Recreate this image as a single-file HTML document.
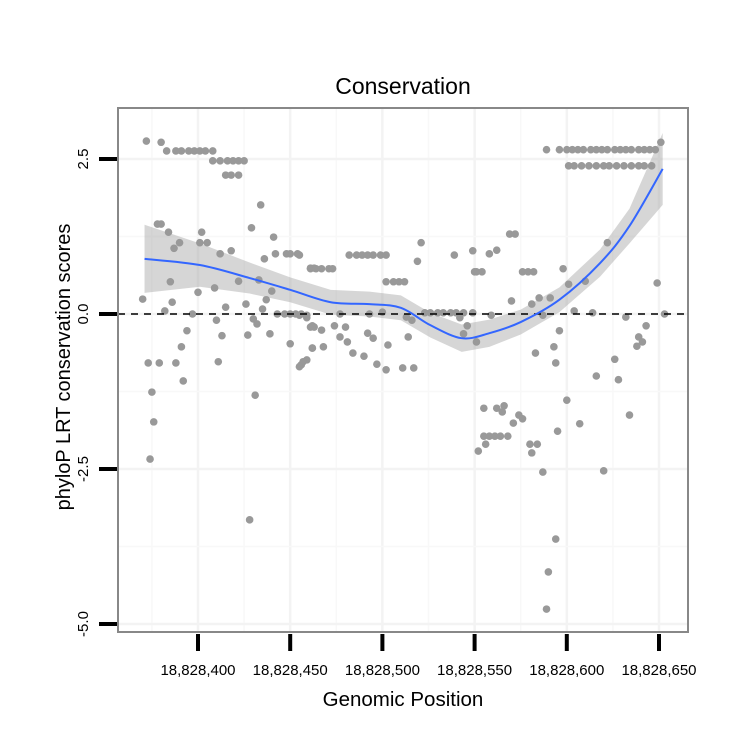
<!DOCTYPE html>
<html><head><meta charset="utf-8"><style>
body{margin:0;background:#fff;}
svg{display:block;font-family:"Liberation Sans",sans-serif;}
</style></head><body>
<svg id="chart" width="750" height="750"></svg>
<script>
const basePosition = 18828400;
const xOffsets = [-28,-20,-17,-12,-9,-5,-2,1,4,8,8,12,16,19,22,25,15,18,22,34,-22,-20,-16,-13,-10,2,1,5,12,18,29,41,42,48,50,54,61,63,36,-15,0,9,22,33,40,37,-30,-14,-18,-3,15,26,35,10,30,32,43,47,50,53,56,59,61,63,-6,13,27,39,-9,50,62,-27,-21,-12,11,59,56,-8,-25,31,-24,-26,28,
121,119,82,86,89,92,95,99,102,55,61,64,67,71,73,102,106,109,112,139,149,158,162,151,55,59,77,93,100,113,116,123,126,130,133,137,140,144,149,159,142,146,144,151,62,67,74,80,77,81,92,95,103,114,62,68,84,90,97,102,111,117,57,55,
189,196,200,203,206,209,213,216,219,222,226,229,232,235,239,242,245,248,251,201,204,208,212,216,220,223,227,231,235,239,242,246,169,172,150,154,176,179,182,198,222,201,210,249,170,181,185,191,204,214,187,232,253,243,196,239,241,238,183,193,194,226,216,228,155,162,166,165,174,171,176,200,207,195,234,155,158,161,164,168,156,152,180,184,181,187,220,194,190,189];
const scores = [2.79,2.77,2.63,2.63,2.63,2.63,2.63,2.63,2.63,2.63,2.47,2.47,2.47,2.47,2.47,2.47,2.24,2.24,2.24,1.76,1.45,1.45,1.32,1.06,1.15,1.32,1.15,1.15,0.97,1.02,1.39,1.24,0.97,0.97,0.97,0.97,0.74,0.74,0.89,0.52,0.35,0.42,0.53,0.55,0.37,0.23,0.24,0.19,0.05,0,0.11,0.16,0.08,-0.1,-0.08,-0.16,0,0,0,0,0,-0.06,-0.21,-0.21,-0.27,-0.35,-0.34,-0.32,-0.53,-0.48,-0.55,-0.79,-0.79,-0.79,-0.77,-0.74,-0.82,-1.08,-1.26,-1.31,-1.74,-2.34,-3.32,
1.15,0.85,0.95,0.95,0.95,0.95,0.95,0.95,0.95,0.95,0.73,0.73,0.73,0.73,0.73,0.52,0.52,0.52,0.52,0.95,1.02,0.97,1.03,0.68,-0.02,-0.02,0,0,0.03,-0.05,-0.1,0.02,0.02,0.02,0.02,0.02,0.02,0.02,0.02,-0.02,-0.06,-0.19,-0.32,-0.45,-0.19,-0.26,-0.19,-0.21,-0.37,-0.45,-0.31,-0.39,-0.5,-0.37,-0.55,-0.53,-0.63,-0.68,-0.81,-0.9,-0.87,-0.87,-0.77,-0.85,
2.65,2.65,2.65,2.65,2.65,2.65,2.65,2.65,2.65,2.65,2.65,2.65,2.65,2.65,2.65,2.65,2.65,2.65,2.77,2.39,2.39,2.39,2.39,2.39,2.39,2.39,2.39,2.39,2.39,2.39,2.39,2.39,1.29,1.29,0.68,0.68,0.68,0.68,0.68,0.73,1.15,0.48,0.53,0.5,0.21,0.16,0.26,0.26,0.05,0.02,-0.02,-0.05,0,-0.19,-0.27,-0.37,-0.45,-0.52,-0.63,-0.53,-0.79,-0.73,-1.0,-1.06,-1.52,-1.52,-1.48,-1.58,-1.63,-1.76,-1.69,-1.39,-1.77,-1.89,-1.63,-1.97,-1.97,-1.97,-1.97,-1.97,-2.1,-2.21,-2.1,-2.1,-2.24,-2.55,-2.53,-3.63,-4.16,-4.76];
const fitX = [-29,1,28,50,72,93,110,126,143,158,175,196,218,234,252];
const fitY = [0.89,0.79,0.58,0.39,0.19,0.16,0.10,-0.18,-0.39,-0.31,-0.13,0.23,0.82,1.42,2.34];
const fitSE = [0.55,0.35,0.25,0.2,0.2,0.2,0.2,0.2,0.22,0.22,0.2,0.2,0.22,0.28,0.58];
const xTicks = [0,50,100,150,200,250];
const xTickLabels = ["18,828,400","18,828,450","18,828,500","18,828,550","18,828,600","18,828,650"];
const yTicks = [2.5,0,-2.5,-5];
const yTickLabels = ["2.5","0.0","-2.5","-5.0"];

const NS="http://www.w3.org/2000/svg";
const svg=document.getElementById('chart');
const L=118,R=688,T=108,B=632;
const X=v=>198+v*1.844;
const Y=v=>314-v*62;
function mk(tag,attrs,parent){const e=document.createElementNS(NS,tag);for(const k in attrs)e.setAttribute(k,attrs[k]);(parent||svg).appendChild(e);return e;}

const grid=mk('g',{});


for(let v=-25;v<=275;v+=25){const px=X(v);if(px>L&&px<R){const l=mk('line',{x1:px,x2:px,y1:T,y2:B,stroke:v%50===0?'#f3f3f3':'#f8f8f8','stroke-width':v%50===0?2.5:1.5},grid);

}}
for(let v=-5;v<=3.75;v+=1.25){const py=Y(v);if(py>T&&py<B){const l=mk('line',{x1:L,x2:R,y1:py,y2:py,stroke:Math.abs(v%2.5)<1e-6?'#f3f3f3':'#f8f8f8','stroke-width':Math.abs(v%2.5)<1e-6?2.5:1.5},grid);

}}

const pts=mk('g',{fill:'#999999'});


for(let i=0;i<xOffsets.length;i++){const c=mk('circle',{cx:X(xOffsets[i]),cy:Y(scores[i]),r:3.8},pts);

}

let d='M'+fitX.map((x,i)=>X(x)+','+Y(fitY[i]+fitSE[i])).join(' L');
for(let i=fitX.length-1;i>=0;i--)d+=' L'+X(fitX[i])+','+Y(fitY[i]-fitSE[i]);
const rib=mk('path',{d:d+'Z',fill:'#999999','fill-opacity':0.4});



const z=mk('line',{x1:L,x2:R,y1:Y(0),y2:Y(0),stroke:'#000','stroke-width':1.5,'stroke-dasharray':'7,6'});



const P=fitX.map((x,i)=>[X(x),Y(fitY[i])]);
let ld='M'+P[0][0]+','+P[0][1];
for(let i=0;i<P.length-1;i++){const p0=P[Math.max(0,i-1)],p1=P[i],p2=P[i+1],p3=P[Math.min(P.length-1,i+2)];
ld+=' C'+(p1[0]+(p2[0]-p0[0])/6)+','+(p1[1]+(p2[1]-p0[1])/6)+' '+(p2[0]-(p3[0]-p1[0])/6)+','+(p2[1]-(p3[1]-p1[1])/6)+' '+p2[0]+','+p2[1];}
const sm=mk('path',{d:ld,fill:'none',stroke:'#3366FF','stroke-width':2});



const bd=mk('rect',{x:L,y:T,width:R-L,height:B-T,fill:'none',stroke:'#888','stroke-width':2});



xTicks.forEach((v,i)=>{const t=mk('line',{x1:X(v),x2:X(v),y1:634,y2:651,stroke:'#000','stroke-width':4});


const tx=mk('text',{x:X(v),y:675,'text-anchor':'middle','font-size':15});tx.textContent=xTickLabels[i];

});
yTicks.forEach((v,i)=>{const t=mk('line',{x1:99,x2:117,y1:Y(v),y2:Y(v),stroke:'#000','stroke-width':4});


const tx=mk('text',{x:88,y:Y(v),'text-anchor':'middle','font-size':15,transform:'rotate(-90 88 '+Y(v)+')'});tx.textContent=yTickLabels[i];

});

const ti=mk('text',{x:403,y:94,'text-anchor':'middle','font-size':23});ti.textContent='Conservation';


const xt=mk('text',{x:403,y:706,'text-anchor':'middle','font-size':20.5});xt.textContent='Genomic Position';


const yt=mk('text',{x:70,y:367,'text-anchor':'middle','font-size':20});
yt.setAttribute('transform','rotate(-90 70 367)');
yt.textContent='phyloP LRT conservation scores';


</script>
</body></html>
